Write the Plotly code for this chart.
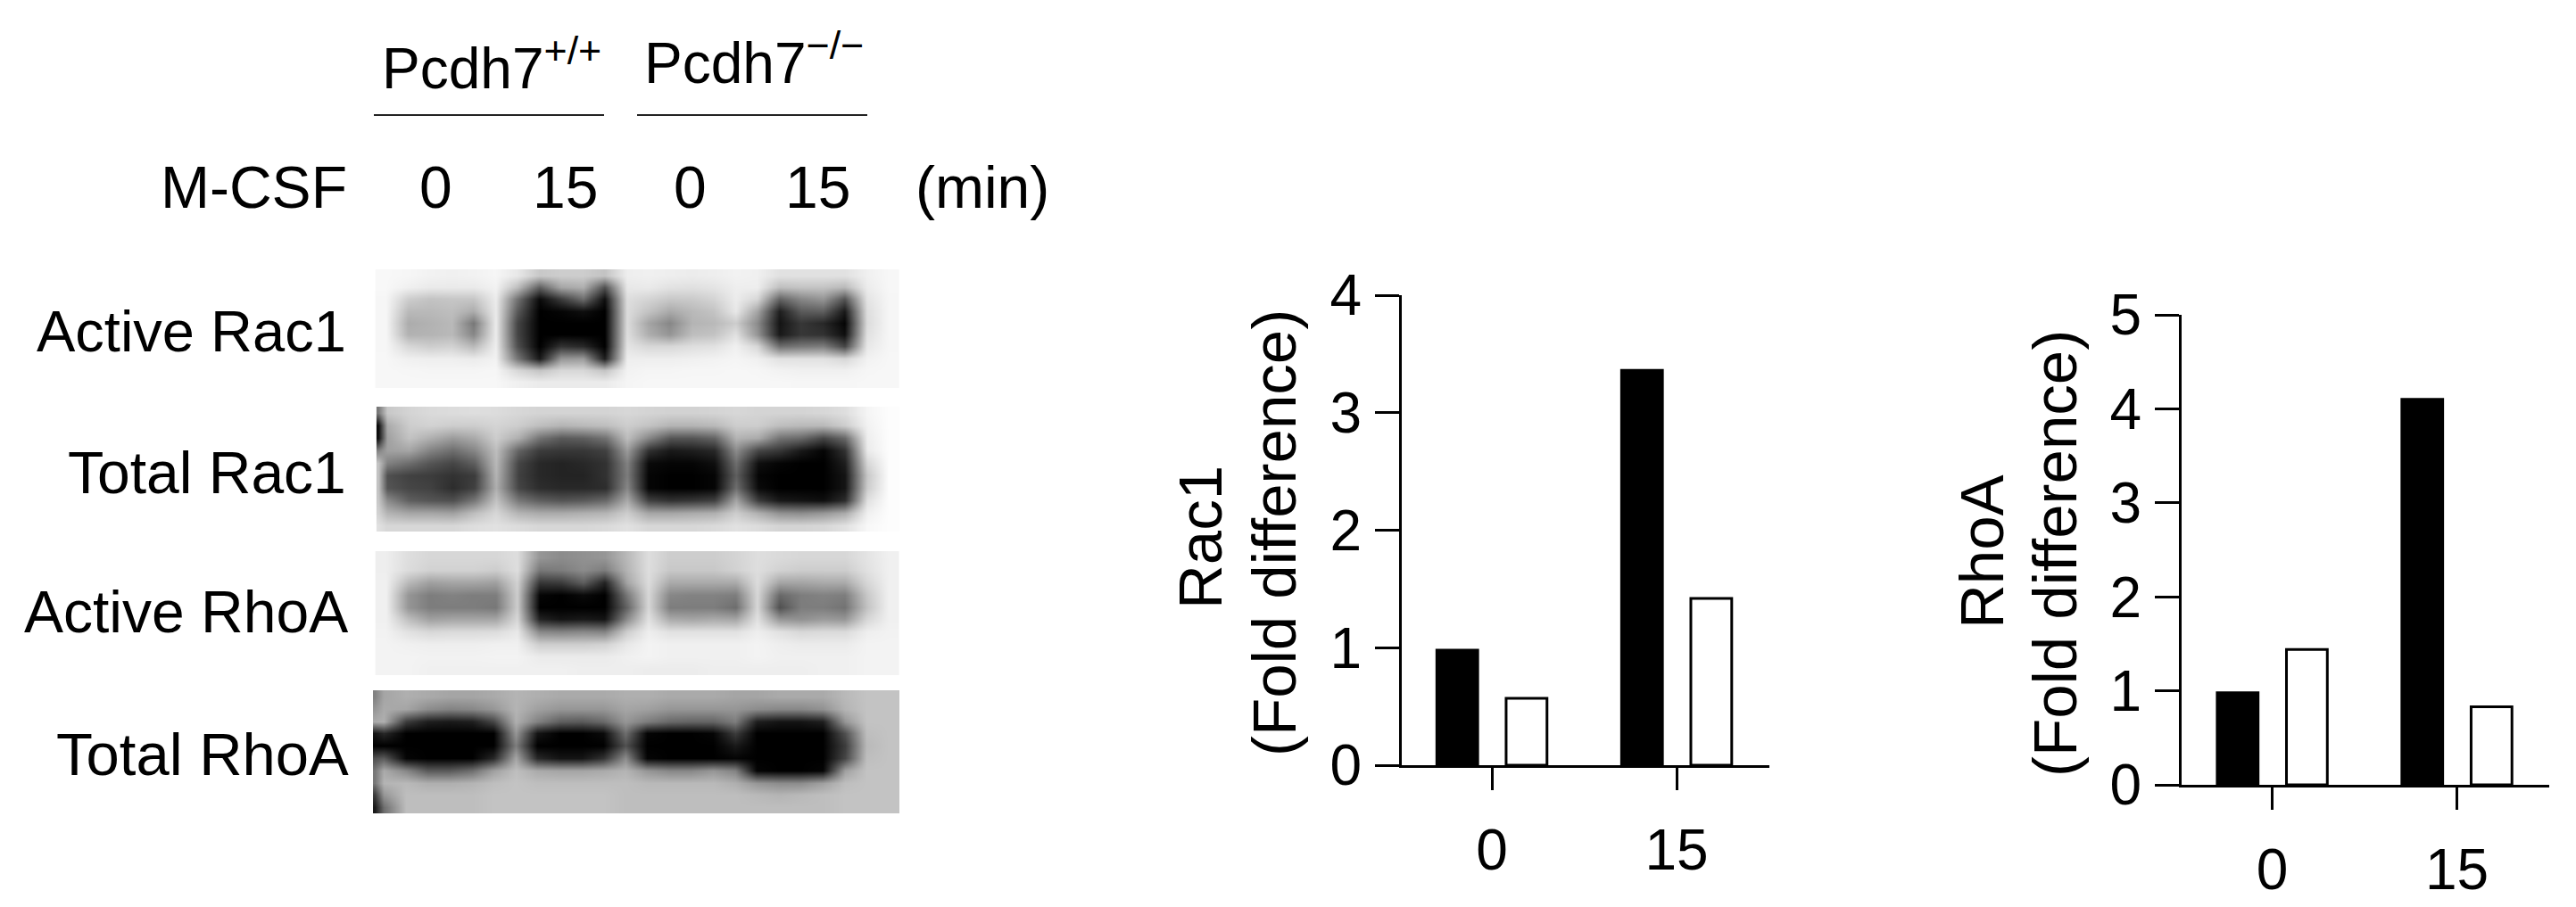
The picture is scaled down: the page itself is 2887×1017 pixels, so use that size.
import plotly.graph_objects as go

W, H = 2887, 1017
FONT = "Liberation Sans"

# ---- bar chart data
time_labels = ["0", "15"]
rac1_wt = [0.98, 3.36]
rac1_ko = [0.57, 1.42]
rhoa_wt = [0.98, 4.10]
rhoa_ko = [1.44, 0.83]

# ---- blot gray levels (0 black .. 255 white), read by eye on a coarse grid
active_rac1 = [
 [248,246,242,240,242,246,232,200,205,205,195,238,240,238,236,238,242,240,225,225,225,225,240,247],
 [248,240,234,234,234,242,190,95,165,175,80,232,234,226,224,228,238,238,190,195,195,185,236,247],
 [246,205,195,198,198,236,115,10,60,110,15,222,212,200,202,212,236,215,100,135,150,85,228,246],
 [246,185,185,190,172,234,90,0,5,15,0,220,195,170,185,195,232,165,30,90,95,25,222,246],
 [246,172,178,185,120,236,70,0,0,0,0,220,165,135,180,185,205,140,20,55,40,5,220,246],
 [246,178,180,185,135,236,70,0,0,0,0,222,175,150,190,195,225,150,25,55,50,15,225,246],
 [246,215,205,210,185,238,80,0,50,40,0,228,215,215,222,225,240,215,110,120,125,70,232,246],
 [247,240,238,238,235,242,120,25,150,155,30,238,238,238,240,242,245,240,225,225,225,215,242,247],
 [247,246,245,245,245,246,215,195,215,215,195,242,245,245,246,246,247,246,242,240,240,240,246,247],
 [247,247,247,247,247,247,240,235,235,235,235,245,247,247,247,247,247,247,247,246,246,246,247,247],
]
total_rac1 = [
 [120,200,212,218,220,222,220,215,212,212,212,212,215,212,210,210,212,215,212,212,212,215,222,245,253],
 [10,170,205,210,205,205,212,205,190,180,185,190,205,195,180,180,185,205,205,190,185,185,205,242,253],
 [15,160,195,175,155,170,205,175,115,90,95,115,190,135,85,85,100,180,170,115,105,70,105,238,253],
 [130,160,165,130,110,135,190,100,60,55,55,65,155,50,25,30,40,140,70,55,25,5,50,235,253],
 [195,130,110,85,70,95,185,70,40,35,40,50,130,10,5,5,15,110,15,5,0,0,30,215,253],
 [195,80,65,60,50,60,180,65,40,35,35,50,125,5,0,0,5,95,5,0,0,0,20,200,253],
 [195,85,70,65,45,65,175,70,45,40,40,45,135,5,0,0,5,110,10,0,0,0,20,205,253],
 [200,140,95,85,80,120,195,120,95,85,90,105,170,65,50,55,65,165,60,25,20,15,45,225,253],
 [210,180,165,165,160,190,215,180,170,170,175,180,205,165,165,170,175,205,175,145,140,150,170,240,253],
 [225,215,215,215,215,222,225,220,215,215,215,218,225,215,215,215,218,225,220,212,212,215,225,248,253],
]
active_rhoa = [
 [238,222,215,215,215,215,222,150,140,145,150,185,222,205,205,205,212,222,218,215,215,215,228,240],
 [238,220,210,210,210,205,222,120,125,140,125,180,222,200,200,200,210,222,210,205,205,205,225,240],
 [240,185,160,165,165,160,210,55,60,95,35,165,220,170,170,170,170,220,165,165,170,170,215,240],
 [240,150,125,130,125,125,205,5,0,10,0,120,215,135,130,130,125,215,105,125,130,125,200,240],
 [240,150,125,125,125,120,205,0,0,0,0,100,215,125,125,125,110,215,80,125,125,115,195,240],
 [240,190,160,165,165,165,215,35,20,25,20,140,225,170,165,170,165,225,150,145,155,150,215,240],
 [242,225,215,218,218,220,232,135,130,135,130,205,238,225,225,225,225,238,225,215,218,218,238,242],
 [243,240,238,238,238,240,240,205,205,205,210,232,243,240,240,240,240,243,238,235,235,235,243,243],
 [243,243,242,242,242,243,243,235,235,235,235,240,243,240,240,240,240,243,240,240,240,240,243,243],
 [243,243,240,240,240,240,240,240,240,238,238,238,236,236,236,238,238,238,238,238,240,240,243,243],
]
total_rhoa = [
 [130,165,175,170,165,165,170,180,175,170,170,170,175,175,170,170,170,165,165,170,170,170,185,195,195],
 [150,170,165,140,130,135,150,180,160,150,150,150,165,160,150,150,150,150,140,135,135,145,180,195,195],
 [170,175,60,30,25,30,70,175,130,95,90,105,150,125,105,100,100,125,30,20,20,30,150,195,195],
 [20,40,0,0,0,0,0,150,20,0,0,10,110,5,0,0,5,60,0,0,0,0,80,190,195],
 [0,0,0,0,0,0,0,125,0,0,0,0,80,0,0,0,0,25,0,0,0,0,60,185,195],
 [80,90,5,0,0,0,40,165,40,20,20,50,140,5,0,0,0,5,0,0,0,0,70,190,195],
 [120,170,135,90,90,110,160,190,170,165,165,170,180,150,135,135,150,130,5,0,0,5,160,195,195],
 [120,180,185,175,175,180,190,195,190,190,190,190,190,185,185,185,185,175,150,140,140,160,190,195,195],
 [60,150,190,190,190,190,195,195,195,195,195,195,190,190,190,190,190,190,185,180,185,190,195,195,195],
 [25,110,190,190,190,190,195,195,195,195,195,195,190,190,190,190,190,190,190,190,190,190,195,195,195],
]

genotype_labels = ["Pcdh7<sup>+/+</sup>", "Pcdh7<sup>\u2212/\u2212</sup>"]
mcsf_labels = ["M-CSF", "0", "15", "0", "15", "(min)"]
blot_labels = ["Active Rac1", "Total Rac1", "Active RhoA", "Total RhoA"]
y_titles = ["Rac1", "(Fold difference)", "RhoA", "(Fold difference)"]


def dx(a, b):
    return [a / W, b / W]


def dy(top, bottom):
    return [1 - bottom / H, 1 - top / H]


fig = go.Figure()

# ---- blots: each on its own pair of axes
gels = [
    (active_rac1, 420.5, 1008, 302, 435, False),
    (total_rac1, 421.7, 1008, 456, 596, True),
    (active_rhoa, 420.5, 1008, 618, 757, False),
    (total_rhoa, 418, 1008, 774, 912, True),
]
layout_axes = {}
for i, (z, x0, x1, y0, y1, spot) in enumerate(gels):
    n = i + 1
    s = "" if n == 1 else str(n)
    xs = ([-0.4] if spot else []) + list(range(24))
    fig.add_trace(go.Heatmap(z=z, x=xs, y=list(range(10)), zmin=0, zmax=255, zsmooth="best",
                             colorscale=[[0, "#000000"], [1, "#ffffff"]], showscale=False,
                             xaxis="x" + s, yaxis="y" + s, hoverinfo="skip"))
    layout_axes["xaxis" + s] = dict(domain=dx(x0, x1), range=[-0.5, 23.5], visible=False, anchor="y" + s,
                                    automargin=False)
    layout_axes["yaxis" + s] = dict(domain=dy(y0, y1), range=[9.5, -0.5], visible=False, anchor="x" + s,
                                    automargin=False)

# ---- bar charts
charts = [
    (5, rac1_wt, rac1_ko, 1571, 1983, 331, 858, [0, 4], -0.488, 1.502),
    (6, rhoa_wt, rhoa_ko, 2445, 2857, 353, 880, [0, 5], -0.491, 1.5),
]
for n, wt, ko, x0, x1, y0, y1, yr, r0, r1 in charts:
    s = str(n)
    fig.add_trace(go.Bar(x=time_labels, y=wt, marker=dict(color="#000000", line=dict(color="#000000", width=3)),
                         xaxis="x" + s, yaxis="y" + s, showlegend=False))
    fig.add_trace(go.Bar(x=time_labels, y=ko, marker=dict(color="#ffffff", line=dict(color="#000000", width=3)),
                         xaxis="x" + s, yaxis="y" + s, showlegend=False))
    layout_axes["xaxis" + s] = dict(domain=dx(x0, x1), type="category", range=[r0, r1], anchor="y" + s,
                                    showline=True, linecolor="#000000", linewidth=3, ticks="outside",
                                    ticklen=25, tickwidth=3, tickcolor="#000000", showgrid=False, zeroline=False,
                                    automargin=False,
                                    ticklabelstandoff=12, tickfont=dict(family=FONT, size=64, color="#000000"))
    layout_axes["yaxis" + s] = dict(domain=dy(y0, y1), range=yr, dtick=1, anchor="x" + s,
                                    showline=True, linecolor="#000000", linewidth=3, ticks="outside",
                                    ticklen=27, tickwidth=3, tickcolor="#000000", showgrid=False, zeroline=False,
                                    automargin=False,
                                    ticklabelstandoff=2, tickfont=dict(family=FONT, size=64, color="#000000"))


def note(text, x, y, size=66, xanchor="center", angle=0):
    return dict(text=text, x=x / W, y=1 - y / H, xref="paper", yref="paper", xanchor=xanchor, yanchor="middle",
                showarrow=False, textangle=angle, font=dict(family=FONT, size=size, color="#000000"))


anns = [
    note(genotype_labels[0], 551, 72, size=64),
    note(genotype_labels[1], 845, 66, size=64),
    note(mcsf_labels[0], 391, 210, xanchor="right"),
    note(mcsf_labels[1], 488, 210),
    note(mcsf_labels[2], 633, 210),
    note(mcsf_labels[3], 773, 210),
    note(mcsf_labels[4], 916, 210),
    note(mcsf_labels[5], 1101, 210),
    note(blot_labels[0], 390, 371, xanchor="right", size=65),
    note(blot_labels[1], 390, 530, xanchor="right"),
    note(blot_labels[2], 392, 686, xanchor="right"),
    note(blot_labels[3], 393, 845, xanchor="right", size=67),
    note(y_titles[0], 1345, 603, size=69, angle=-90),
    note(y_titles[1], 1428, 598, size=69, angle=-90),
    note(y_titles[2], 2221, 619, size=69, angle=-90),
    note(y_titles[3], 2303, 621, size=69, angle=-90),
]

shapes = [
    dict(type="line", xref="paper", yref="paper", x0=419 / W, x1=677 / W, y0=1 - 129 / H, y1=1 - 129 / H,
         line=dict(color="#222222", width=2)),
    dict(type="line", xref="paper", yref="paper", x0=714 / W, x1=972 / W, y0=1 - 129 / H, y1=1 - 129 / H,
         line=dict(color="#222222", width=2)),
]

fig.update_layout(template="none", width=W, height=H, margin=dict(l=0, r=0, t=0, b=0, pad=0, autoexpand=False),
                  paper_bgcolor="#ffffff",
                  plot_bgcolor="rgba(0,0,0,0)", barmode="group", bargap=0.25, bargroupgap=0.41,
                  showlegend=False, annotations=anns, shapes=shapes, **layout_axes)

fig.write_html("out.html", config={"displayModeBar": False},
               post_script="document.body.style.margin='0';document.body.style.overflow='hidden';")
